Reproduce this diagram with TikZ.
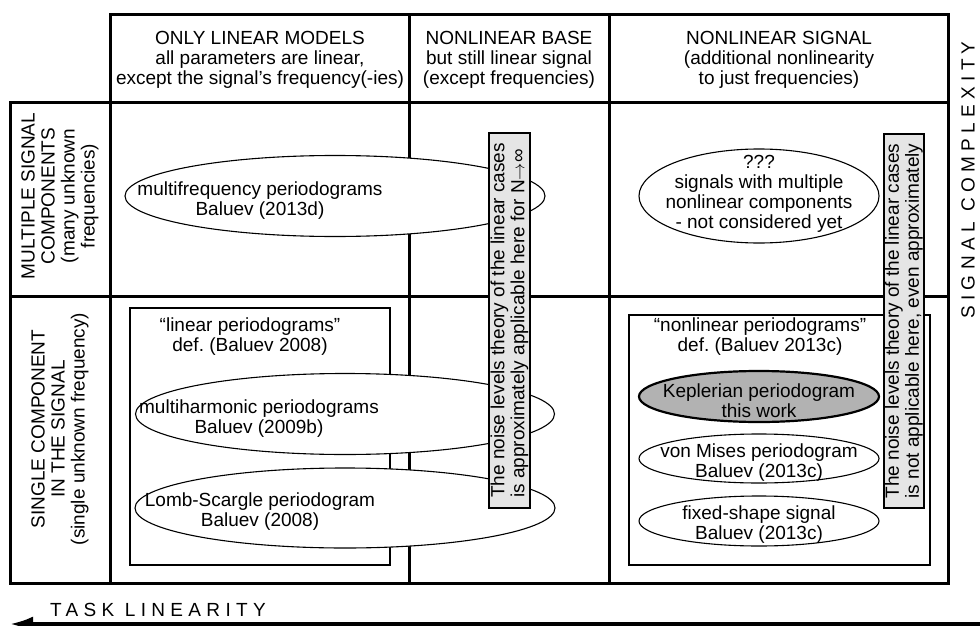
\documentclass[tikz,border=0pt]{standalone}
\usepackage{fontspec}
\setmainfont{Liberation Sans}
\newfontfamily\spacedfont[LetterSpace=28]{Liberation Sans}
\usetikzlibrary{shapes.geometric,arrows.meta}

\begin{document}
\begin{tikzpicture}[x=1pt, y=-1pt,
  every node/.style={font=\fontsize{19}{20}\selectfont, inner sep=0pt, align=center},
  grid/.style={line width=3pt},
  frame/.style={draw, line width=2pt},
  oval/.style={ellipse, draw, fill=white, line width=1.1pt},
  kepler/.style={ellipse, draw, fill=black!30, line width=2.2pt},
  notebox/.style={draw, fill=black!10, line width=2pt, rotate=90, align=left, minimum width=375, minimum height=41},
  axislabel/.style={font=\spacedfont\fontsize{19}{20}\selectfont}]
  \useasboundingbox (0,0) rectangle (980,626);

  \draw[grid] (110,15) rectangle (948,583);
  \draw[grid] (10,102) rectangle (948,583);
  \draw[grid] (10,296) -- (948,296);
  \draw[grid] (409,15) -- (409,583);
  \draw[grid] (609,15) -- (609,583);

  \node (linhead) at (260,60) {ONLY LINEAR MODELS\\all parameters are linear,\\except the signal’s frequency(-ies)};
  \node (basehead) at (509,60) {NONLINEAR BASE\\but still linear signal\\(except frequencies)};
  \node (sighead) at (779,60) {NONLINEAR SIGNAL\\(additional nonlinearity\\to just frequencies)};
  \node[rotate=90] (multirow) at (60,196) {MULTIPLE SIGNAL\\COMPONENTS\\(many unknown\\frequencies)};
  \node[rotate=90] (singlerow) at (60,429) {SINGLE COMPONENT\\IN THE SIGNAL\\(single unknown frequency)};

  \draw[frame] (130,308) rectangle (390,565);
  \draw[frame] (629,315) rectangle (930,565);
  \node (lintitle) at (250,337) {“linear periodograms”\\def.\ (Baluev 2008)};
  \node (nontitle) at (760,337) {“nonlinear periodograms”\\def.\ (Baluev 2013c)};

  \node[oval, minimum width=420, minimum height=81] (multifreq) at (335,196) {};
  \node (multifreqtext) at (260,201) {multifrequency periodograms\\Baluev (2013d)};
  \node[oval, minimum width=419, minimum height=81] (multiharm) at (345,414) {};
  \node (multiharmtext) at (259,419) {multiharmonic periodograms\\Baluev (2009b)};
  \node[oval, minimum width=420, minimum height=80] (lombsc) at (345,508) {};
  \node (lombsctext) at (260,512) {Lomb-Scargle periodogram\\Baluev (2008)};

  \node[oval, minimum width=240, minimum height=94] (multinon) at (759,196) {};
  \node (multinontext) at (759,194) {???\\signals with multiple\\nonlinear components\\- not considered yet};
  \node[kepler, minimum width=240, minimum height=51] (kepler) at (759,396.5) {};
  \node (keplertext) at (759,401) {Keplerian periodogram\\this work};
  \node[oval, minimum width=240, minimum height=49] (vonmises) at (759,458.5) {};
  \node (vonmisestext) at (759,463) {von Mises periodogram\\Baluev (2013c)};
  \node[oval, minimum width=240, minimum height=50] (fixshape) at (759,521) {};
  \node (fixshapetext) at (759,525) {fixed-shape signal\\Baluev (2013c)};

  \node[notebox] (approxnote) at (509.5,320.5) {The noise levels theory of the linear cases\\is approximately applicable here for N$\rightarrow$∞};
  \node[notebox, minimum height=40, minimum width=374] (nonote) at (904,321) {The noise levels theory of the linear cases\\is not applicable here, even approximately};

  \node[axislabel, anchor=base west] (linlabel) at (50,616) {TASK LINEARITY};
  \node[axislabel, rotate=90] (cplxlabel) at (968,180) {SIGNAL COMPLEXITY};
  \coordinate (linright) at (990,624);
  \coordinate (linleft) at (10,624);
  \draw[line width=3.5pt, -{Latex[length=23pt,width=15pt]}] (linright) -- (linleft);
\end{tikzpicture}
\end{document}
